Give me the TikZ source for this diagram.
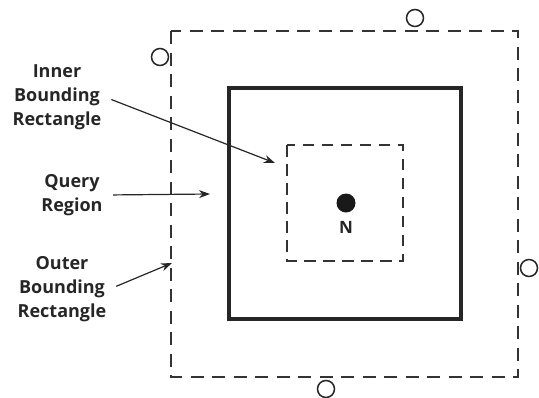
\documentclass[tikz,border=0pt]{standalone}
\usepackage{fontspec}
\setmainfont{Open Sans}
\usetikzlibrary{arrows.meta}
\begin{document}
\begin{tikzpicture}[x=1pt,y=-1pt,
  lbl/.style={font=\bfseries\fontsize{18}{24}\selectfont, align=center, text=black!85},
  dashrect/.style={draw=black!80, line width=1.8pt, dash pattern=on 13pt off 8.5pt},
  innerrect/.style={draw=black!80, line width=1.8pt, dash pattern=on 11.5pt off 7.5pt},
  solidrect/.style={draw=black!85, line width=3.8pt},
  ptr/.style={draw=black!85, line width=1.2pt, shorten <=7pt, -{Stealth[length=11pt,width=8pt]}},
  pt/.style={circle, draw=black!85, line width=1.5pt, minimum size=17pt, inner sep=0pt}]
\useasboundingbox (0,0) rectangle (539,397);
% rectangles
\draw[dashrect] (171,31) rectangle (518,377);
\draw[solidrect] (229,88) rectangle (461,319);
\draw[innerrect] (287,145) rectangle (403,261);
% query point
\node[circle, fill=black!90, minimum size=19pt, inner sep=0pt] (n) at (346,203) {};
\node[font=\bfseries\fontsize{17}{18}\selectfont, text=black!85] (nlab) at (346,227) {N};
% neighbouring objects
\node[pt] (o1) at (160,57) {};
\node[pt] (o2) at (415,18) {};
\node[pt] (o3) at (529,268) {};
\node[pt] (o4) at (326,389) {};
% labels
\node[lbl] (inner) at (57,97) {Inner\\Bounding\\Rectangle};
\node[lbl] (query) at (72,195) {Query\\Region};
\node[lbl] (outer) at (62,289) {Outer\\Bounding\\Rectangle};
\coordinate (innerTip) at (275,163);
\coordinate (queryTip) at (210,194);
\coordinate (outerTip) at (172,263);
\draw[ptr] (inner.east) -- (innerTip);
\draw[ptr] (query.east) -- (queryTip);
\draw[ptr] (outer.east) -- (outerTip);
\end{tikzpicture}
\end{document}
